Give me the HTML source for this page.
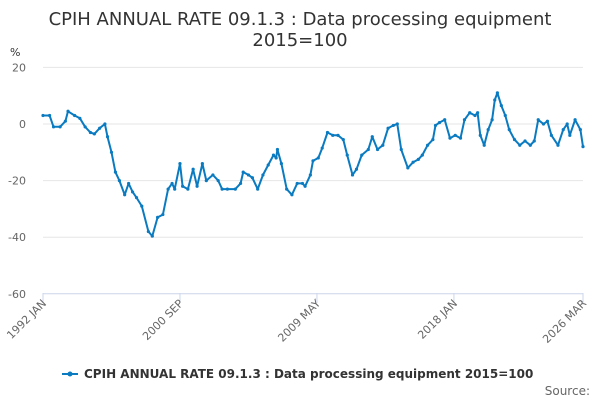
<!DOCTYPE html>
<html><head><meta charset="utf-8"><style>
body{margin:0;background:#fff;width:600px;height:400px;overflow:hidden;font-family:"DejaVu Sans",sans-serif}
</style></head><body>
<svg id="chart" width="600" height="400" xmlns="http://www.w3.org/2000/svg" font-family="DejaVu Sans, sans-serif">
<text x="300" y="25" text-anchor="middle" font-size="18" fill="#333">CPIH ANNUAL RATE 09.1.3 : Data processing equipment</text>
<text x="300" y="46" text-anchor="middle" font-size="18" fill="#333">2015=100</text>
<text x="10" y="56" font-size="11" fill="#333">%</text>
<g id="grid"></g><g id="xaxis"></g><g id="series"></g>
<g>
<line x1="62" y1="374" x2="78" y2="374" stroke="#0a7bc1" stroke-width="2"/>
<circle cx="70" cy="374" r="2.5" fill="#0a7bc1"/>
<text x="84" y="378" font-size="12" font-weight="bold" fill="#333">CPIH ANNUAL RATE 09.1.3 : Data processing equipment 2015=100</text>
</g>
<text x="590" y="395" text-anchor="end" font-size="12" fill="#666">Source:</text>
</svg>
<script>
const months=[0,5,8,13,17,19,24,28,32,36,39,43,47,49,52,55,58,62,65,68,71,75,80,83,87,91,95,98,100,104,106,110,114,117,121,124,129,133,136,140,146,150,152,156,159,163,167,171,175,177,178,181,185,189,193,197,199,203,205,209,212,216,220,224,228,231,235,238,242,247,250,254,258,262,266,269,272,277,281,285,288,292,296,298,301,305,309,313,317,320,324,328,330,332,335,338,341,343,345,348,351,354,358,362,366,370,373,376,380,383,386,391,395,398,400,404,408,410];
const values=[3,3,-1,-1,1,4.5,3,2,-1,-3,-3.5,-1.5,0,-4.5,-10,-17,-20,-25,-21,-24,-26,-29,-38,-39.6,-33,-32,-23,-21,-23,-14,-22,-23,-16,-22,-14,-20,-18,-20,-23,-23,-23,-21,-17,-18,-19,-23,-18,-14.5,-11,-12,-9,-14,-23,-25,-21,-21,-22,-18,-13,-12,-8.5,-3,-4,-4,-5.5,-11,-18,-16,-11,-9,-4.5,-9,-7.5,-1.5,-0.5,0,-9,-15.5,-13.5,-12.5,-11,-7.5,-5.5,-0.5,0.5,1.5,-5,-4,-5,1.5,4,3,4,-4,-7.5,-2,1.5,8.5,11,6.5,3,-2,-5.5,-7.5,-6,-7.5,-6,1.5,0,1,-4,-7.5,-2,0,-4,1.5,-2,-8];
const yTicks=[20,0,-20,-40,-60];
const xTickMonths=[0,104,208,312,410];
const xTickLabels=["1992 JAN","2000 SEP","2009 MAY","2018 JAN","2026 MAR"];
const NS="http://www.w3.org/2000/svg";
const x=m=>43+m*(540/410);
const y=v=>124-v*2.83;
function mk(t,a,p){const e=document.createElementNS(NS,t);for(const k in a)e.setAttribute(k,a[k]);p.appendChild(e);return e;}
const grid=document.getElementById('grid');
yTicks.forEach(v=>{
 const l=mk('line',{x1:43,x2:583,y1:y(v),y2:y(v),stroke:v===-60?'#ccd6eb':'#e6e6e6','stroke-width':1},grid);
 
 
 const t=mk('text',{x:26,y:y(v)+4,'text-anchor':'end','font-size':11,fill:'#666'},grid);
 t.textContent=v;
 
 
});
const xa=document.getElementById('xaxis');
xTickMonths.forEach((m,i)=>{
 const tk=mk('line',{x1:x(m),x2:x(m),y1:293,y2:303,stroke:'#ccd6eb'},xa);
 
 
 const t=mk('text',{x:x(m)+4,y:304,'text-anchor':'end','font-size':11,fill:'#666',transform:`rotate(-45 ${x(m)+4} 304)`},xa);
 t.textContent=xTickLabels[i];
 
 
});
const s=document.getElementById('series');
const pts=months.map((m,i)=>x(m).toFixed(1)+','+y(values[i]).toFixed(1)).join(' ');
const pl=mk('polyline',{points:pts,fill:'none',stroke:'#0a7bc1','stroke-width':2,'stroke-linejoin':'round'},s);


months.forEach((m,i)=>{
 const c=mk('circle',{cx:x(m),cy:y(values[i]),r:1.6,fill:'#0a7bc1'},s);
 
 
});
</script>
</body></html>
